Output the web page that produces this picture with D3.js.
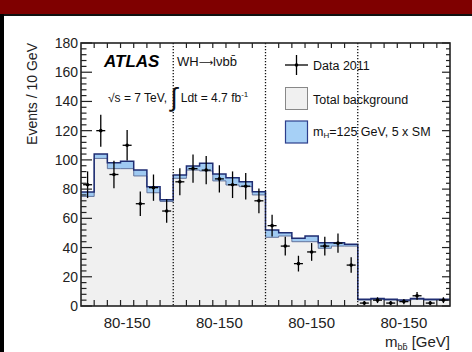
<!DOCTYPE html>
<html><head><meta charset="utf-8">
<script src="https://cdn.jsdelivr.net/npm/d3@7"></script>
<style>
html,body{margin:0;padding:0;background:#fff;}
svg{display:block;font-family:"Liberation Sans",Arial,sans-serif;}
</style></head>
<body>
<svg id="c" width="472" height="352"></svg>
<script>
// ---- data ----
const regions = ["80-150", "80-150", "80-150", "80-150"];
const binsPerRegion = 7;
const background = [
  75, 101, 94, 94, 89, 77.5, 71.5,
  87.4, 93, 92.4, 85.6, 82.8, 81.7, 76,
  47, 47.9, 44, 44, 39.5, 41, 41,
  4, 4.5, 4, 3.5, 4.5, 4, 4
];
const signal5xSM = [
  3, 3, 4, 5, 4, 4.2, 1.2,
  2.3, 2.8, 5.3, 4.7, 5, 3.3, 2.2,
  5, 2.3, 2.3, 3.9, 3.8, 2.3, 1.2,
  0.6, 0.6, 0.6, 0.6, 0.6, 0.6, 0.6
];
const data2011 = [
  83, 120, 90, 110, 70, 81, 65,
  85, 94, 93, 87, 83, 82, 72,
  55, 41, 29, 37, 41, 43, 28,
  2, 4, 2, 3, 7, 2, 4
];
const yTicks = [0, 20, 40, 60, 80, 100, 120, 140, 160, 180];

// ---- layout ----
const svg = d3.select("#c");
const L = 81, R = 450, T = 43, B = 306;
const nBins = background.length;
const x = d3.scaleLinear().domain([0, nBins]).range([L, R]);
const y = d3.scaleLinear().domain([0, 180]).range([B, T]);

// page frame
svg.append("rect").attr("x", 0).attr("y", 0).attr("width", 472).attr("height", 14).attr("fill", "#7f0000");
svg.append("rect").attr("x", 0).attr("y", 14).attr("width", 472).attr("height", 2).attr("fill", "#111");
svg.append("rect").attr("x", 0).attr("y", 14).attr("width", 4).attr("height", 338).attr("fill", "#000");

// histogram stacks
const total = background.map((b, i) => b + signal5xSM[i]);
function stepPath(vals) {
  let p = `M${x(0)},${y(0)}`;
  vals.forEach((v, i) => { p += `L${x(i)},${y(v)}L${x(i + 1)},${y(v)}`; });
  p += `L${x(nBins)},${y(0)}Z`;
  return p;
}
function stepLine(vals) {
  let p = "";
  vals.forEach((v, i) => { p += (i === 0 ? "M" : "L") + `${x(i)},${y(v)}L${x(i + 1)},${y(v)}`; });
  return p;
}
svg.append("path").attr("d", stepPath(total)).attr("fill", "#9fcaf2");
svg.append("path").attr("d", stepPath(background)).attr("fill", "#f0f0f0");
svg.append("path").attr("d", stepLine(background)).attr("fill", "none").attr("stroke", "#5a6a94").attr("stroke-width", 0.9);
svg.append("path").attr("d", stepLine(total)).attr("fill", "none").attr("stroke", "#1f2d72").attr("stroke-width", 1.5);

// region separators (dotted)
for (let r = 1; r < regions.length; r++) {
  svg.append("line").attr("x1", x(r * binsPerRegion)).attr("x2", x(r * binsPerRegion))
    .attr("y1", T).attr("y2", B).attr("stroke", "#111").attr("stroke-width", 1.3)
    .attr("stroke-dasharray", "1.3,1.7");
}

// data points
const pts = svg.append("g");
data2011.forEach((d, i) => {
  const cx = x(i + 0.5), err = Math.sqrt(d);
  pts.append("line").attr("x1", cx).attr("x2", cx).attr("y1", y(d + err)).attr("y2", y(Math.max(0, d - err)))
    .attr("stroke", "#000").attr("stroke-width", 1.3);
  pts.append("line").attr("x1", cx - 4.5).attr("x2", cx + 4.5).attr("y1", y(d)).attr("y2", y(d))
    .attr("stroke", "#000").attr("stroke-width", 1.3);
  pts.append("circle").attr("cx", cx).attr("cy", y(d)).attr("r", 1.8).attr("fill", "#000");
});

// axes frame and ticks
const ax = svg.append("g").attr("stroke", "#222").attr("stroke-width", 1.2);
ax.append("rect").attr("x", L).attr("y", T).attr("width", R - L).attr("height", B - T)
  .attr("fill", "none").attr("stroke-width", 1.6);
const minor = d3.range(0, 181, 4);
minor.forEach(v => {
  const major = v % 20 === 0;
  ax.append("line").attr("x1", L).attr("x2", L + (major ? 11 : 5.5)).attr("y1", y(v)).attr("y2", y(v));
  ax.append("line").attr("x1", R).attr("x2", R - (major ? 8 : 4)).attr("y1", y(v)).attr("y2", y(v));
});
d3.range(1, nBins).forEach(i => {
  if (i % binsPerRegion === 0) return;
  ax.append("line").attr("x1", x(i)).attr("x2", x(i)).attr("y1", B).attr("y2", B - 6);
  ax.append("line").attr("x1", x(i)).attr("x2", x(i)).attr("y1", T).attr("y2", T + 5);
});

// y tick labels
const yAxis = svg.append("g");
yTicks.forEach(v => {
  yAxis.append("text").attr("x", 78).attr("y", y(v)).attr("dy", "0.36em")
    .attr("text-anchor", "end").attr("font-size", 14).attr("fill", "#222").text(v);
});
svg.append("text").attr("transform", "translate(37,43) rotate(-90)").attr("text-anchor", "end")
  .attr("font-size", 14).attr("fill", "#222").text("Events / 10 GeV");

// x labels
regions.forEach((lab, r) => {
  svg.append("text").attr("x", x(r * binsPerRegion + binsPerRegion / 2)).attr("y", 328)
    .attr("text-anchor", "middle").attr("font-size", 15).attr("fill", "#222").text(lab);
});
const xt = svg.append("text").attr("x", 450).attr("y", 347).attr("text-anchor", "end")
  .attr("font-size", 15).attr("fill", "#222");
xt.append("tspan").text("m");
xt.append("tspan").attr("font-size", 9).attr("dy", 3).text("bb\u0304");
xt.append("tspan").attr("dy", -3).text(" [GeV]");

// ATLAS labels
svg.append("text").attr("x", 104).attr("y", 67).attr("font-size", 17).attr("font-weight", "bold")
  .attr("font-style", "italic").attr("fill", "#000").text("ATLAS");
const wh = svg.append("text").attr("x", 177).attr("y", 66).attr("font-size", 13).attr("fill", "#111");
wh.append("tspan").text("WH");
wh.append("tspan").attr("font-family", "DejaVu Sans").attr("font-size", 10).text("\u27F6");
wh.append("tspan").text("l\u03bdbb\u0304");
const lum = svg.append("text").attr("x", 108).attr("y", 102).attr("font-size", 12).attr("fill", "#111");
lum.append("tspan").text("\u221As = 7 TeV, ");
lum.append("tspan").attr("font-size", 26).attr("dy", 4).text("\u222B");
lum.append("tspan").attr("dy", -4).text(" Ldt = 4.7 fb");
lum.append("tspan").attr("font-size", 8).attr("dy", -5).text("-1");

// legend
const lg = svg.append("g");
lg.append("line").attr("x1", 285).attr("x2", 308).attr("y1", 65).attr("y2", 65).attr("stroke", "#000").attr("stroke-width", 1.3);
lg.append("line").attr("x1", 296.5).attr("x2", 296.5).attr("y1", 55).attr("y2", 75).attr("stroke", "#000").attr("stroke-width", 1.3);
lg.append("circle").attr("cx", 296.5).attr("cy", 65).attr("r", 1.8).attr("fill", "#000");
lg.append("text").attr("x", 313).attr("y", 70).attr("font-size", 12.5).attr("fill", "#111").text("Data 2011");
lg.append("rect").attr("x", 285.5).attr("y", 87.5).attr("width", 22).attr("height", 22)
  .attr("fill", "#f0f0f0").attr("stroke", "#888").attr("stroke-width", 1);
lg.append("text").attr("x", 313).attr("y", 104).attr("font-size", 12.5).attr("fill", "#111").text("Total background");
lg.append("rect").attr("x", 285.5).attr("y", 121).attr("width", 22).attr("height", 22)
  .attr("fill", "#a6d0f6").attr("stroke", "#2c3e8c").attr("stroke-width", 1.2);
const st = lg.append("text").attr("x", 313).attr("y", 136).attr("font-size", 12.5).attr("fill", "#111");
st.append("tspan").text("m");
st.append("tspan").attr("font-size", 8).attr("dy", 2).text("H");
st.append("tspan").attr("dy", -2).text("=125 GeV, 5 x SM");
</script>
</body></html>
